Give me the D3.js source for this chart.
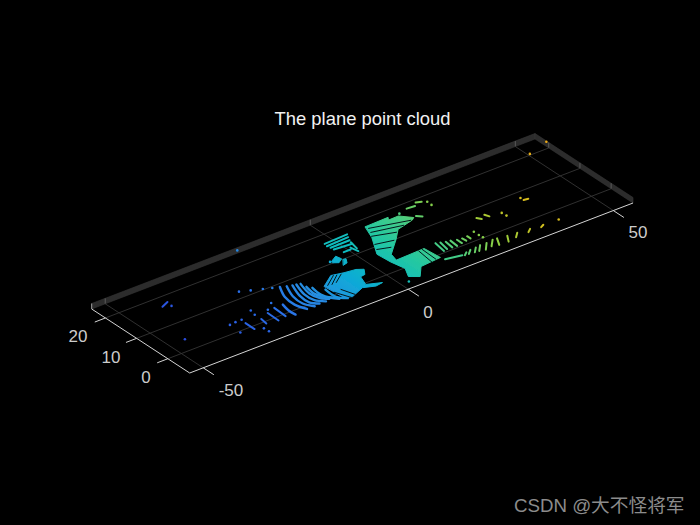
<!DOCTYPE html>
<html><head><meta charset="utf-8">
<script src="https://cdn.jsdelivr.net/npm/d3@7/dist/d3.min.js"></script>
<style>html,body{margin:0;padding:0;background:#000;overflow:hidden}svg{display:block}</style>
</head><body><svg id="c" width="700" height="525"></svg>
<script>
const titleText = "The plane point cloud";
const watermark = "CSDN @大不怪将军";
const xLim = [-53.3, 54.8];
const yLim = [-7, 24.4];
const zLim = [0, 1];
const xTicks = [-50, 0, 50];
const yTicks = [0, 10, 20];
const colorDomain = [-50, -25, -15, -7, 0, 8, 15, 25, 35, 50];
const colorRange = ["#2b46dc", "#2a70e8", "#2590e0", "#10a8d8", "#10bcc0", "#25c8a0", "#45cc85", "#90d040", "#d0c020", "#e8b018"];

// isolated returns (x, y, z)
const dotX = [-40.3,-46.1,-26.6,-24.5,-22.3,-20.6,-35.8,-34.3,-32.8,-36,-29.2,-29.6,-31.4,-31.3,-24.3,-26.4,-5.6,1.9,23.5,23.4,16.4,23.6,23.6,23.7,39.5,32.3,32.4,38.7,50.5,-17.8,54.6];
const dotY = [15.9,4,12.3,11.3,10.3,9.5,3.1,3.3,3.3,-0.5,5.1,3.3,-2,-3.5,5,3.3,10.7,-4.7,17.8,16.3,17.4,3,1.4,0.2,-3.3,5.5,4.1,7.9,20.4,24.4,20.5];
const dotZ = [0,0,0,0,0,0,0,0,0,0,0,0,0,0,0,0,0,0,0,0,0,0,0,0,0,0,0,0,0,0.5,1];

// scan-line returns, each [x,y,x,y,...]
const scanArcs = [
  [-19.2,8.9,-20.8,5.2,-21.1,1.7,-20.2,-1.1],
  [-18,8.3,-19.4,4.5,-19.6,1.1,-18.4,-1.2],
  [-16.9,7.9,-18.2,3.9,-18.3,0.7,-17,-0.9],
  [-16.1,7.7,-17.2,3.7,-17,0.7,-15.5,-1],
  [-15.3,7.4,-16.2,3.4,-15.7,0.9,-14.4,-0.6],
  [-15.1,5.8,-15.5,2.8,-14.7,0.6,-13.4,-0.9],
  [-14.4,4.8,-14.7,1.7,-13.9,-0.5,-12.8,-1.8],
  [-12.8,2.7,-12.9,-0.8,-11.4,-2.6],
  [-22.9,3.1,-23.4,0.6,-23.3,-1.5]
];
const scanShort = [
  [-41.9,16.7,-40,17.6],[-33,1.8,-33,-1.1],[-29.6,1.2,-29.9,-0.8],[-27.2,2.3,-27.3,-1.3],[-25,3.1,-25.2,-0.8],
  [-2.2,16.9,3.5,17.2],[-2.4,15.9,3,16.2],[-2.2,15,2.5,15.1],[-2.1,14.1,2.1,13.7],[-1.2,12.1,0.5,12.1],[0.9,12.7,1.3,10.7],[2.2,14.3,1.7,11.7],
  [15,4,14.5,0.6],[15.9,3.6,15.4,0.8],[16.9,3.2,16.6,0.7],[17.9,3,17.7,0.6],[19.1,2.5,19.1,0.9],[20.2,2.3,20.3,1.1],[21.5,2.4,21.5,1.3],
  [12.7,-2.1,16.3,-2.9],[16.7,-3.2,17.6,-2.5],[17.6,-3.3,18.8,-2.2],[18.9,-3.5,20.2,-2.1],[19.9,-3.6,21.4,-1.9],[21.2,-4,22.9,-2],[22.9,-3.6,24.6,-1.7],[25.6,-1.8,24.4,-4.1],[27.8,-2.2,26.6,-4.2],[28.8,-3.7,30,-2.5],[31.9,-3.6,32.9,-2.8],[35,-3.6,35.9,-3.1],
  [27.2,6.9,27.8,6],[29.2,7,29.6,5.9],[18.7,18.1,20.6,17.9],[21.5,18.9,22.6,18.4],[18.4,14.7,19.3,13.8],[38.7,6.9,39.7,6.7]
];
// dense patches, each [x,y,x,y,...] outline
const patches = [
  [-12.2,3.9,-8.7,6.4,-6,5.7,-3.4,5.3,-2.1,4.4,-3.2,2.7,-4.4,2.5,-5.4,-0.5,-2.4,-1.9,-4.2,-2.2,-6.7,-1.1,-10.3,-2.7,-11.8,-2.1,-12.1,1.4],
  [-5.2,10.7,-3.4,11.8,-3.1,10.3,-4.4,9.4,-5.4,10.1],
  [-3,9.9,-2.4,9.8,-3.2,8.4,-4.3,8.1],
  [8.1,17.4,13.8,17.6,13.2,16.7,15.7,16.8,17.7,14.5,16.9,13.9,12.5,12.7,9.9,9.9,5.6,5.8,5,3.4,12,3.7,12.4,-1,7.3,-1.5,4.8,-4.5,3,-3.1,4.4,-0.2,3.7,3.5,3.4,7.5,6.5,13.2]
];
// dark gaps between scan lines inside the patches
const patchGaps = [
  [-11.5,3.7,-8.3,6.1],[-10.6,3.5,-7.7,5.8],[-9.5,3.6,-6.8,5.6],[-12.1,0.8,-10.7,-2.8],[-10.4,0.9,-9.4,-2.3],
  [8.2,16.5,16.6,14],[7.6,15,14.3,13.3],[6.8,13.7,11.6,12],[5.4,10.8,9.3,9.8],[4.5,9,7.2,8],[10.6,3.6,10,-1.5],[11.5,3.7,11.3,-1]
];

const uX = d3.scaleLinear().domain(xLim).range([189.7, 633]);
const vX = d3.scaleLinear().domain(xLim).range([373, 203]);
const uY = d3.scaleLinear().domain(yLim).range([0, -98]);
const vY = d3.scaleLinear().domain(yLim).range([0, -64]);
const vZ = d3.scaleLinear().domain(zLim).range([0, -5.5]);
const P = (x, y, z = 0) => [uX(x) + uY(y), vX(x) + vY(y) + vZ(z)];
const color = d3.scaleLinear().domain(colorDomain).range(colorRange);

const svg = d3.select("#c");
svg.append("rect").attr("width", 700).attr("height", 525).attr("fill", "#000");

// gradient running along the x direction of the floor
const O = P(0, 0), a = P(1, 0), b = P(0, 1);
const ax = a[0]-O[0], ay = a[1]-O[1], dx = b[0]-O[0], dy = b[1]-O[1];
const k = (ax*dx + ay*dy) / (dx*dx + dy*dy);
const nx = ax - k*dx, ny = ay - k*dy;
const span = x => [O[0] + x*nx, O[1] + x*ny];
const g0 = span(colorDomain[0]), g1 = span(colorDomain[colorDomain.length-1]);
const defs = svg.append("defs");
const grad = defs.append("linearGradient").attr("id", "byX")
  .attr("gradientUnits", "userSpaceOnUse")
  .attr("x1", g0[0]).attr("y1", g0[1]).attr("x2", g1[0]).attr("y2", g1[1]);
grad.selectAll("stop").data(colorDomain).join("stop")
  .attr("offset", d => (d - colorDomain[0]) / (colorDomain[colorDomain.length-1] - colorDomain[0]))
  .attr("stop-color", d => color(d));
defs.append("filter").attr("id", "soft").attr("x", "-5%").attr("y", "-5%").attr("width", "110%").attr("height", "110%")
  .append("feGaussianBlur").attr("stdDeviation", 0.35);

const line = d3.line();
const seg = (p, q, c, w, parent) => parent.append("line")
  .attr("x1", p[0]).attr("y1", p[1]).attr("x2", q[0]).attr("y2", q[1])
  .attr("stroke", c).attr("stroke-width", w);

// walls
const wall = svg.append("g");
const wallPoly = (pts) => wall.append("path").attr("d", line(pts) + "Z").attr("fill", "#2c2c2c").attr("stroke", "#363636").attr("stroke-width", 0.6);
wallPoly([P(xLim[0],yLim[1],0),P(xLim[1],yLim[1],0),P(xLim[1],yLim[1],1),P(xLim[0],yLim[1],1)]);
wallPoly([P(xLim[1],yLim[1],0),P(xLim[1],yLim[0],0),P(xLim[1],yLim[0],1),P(xLim[1],yLim[1],1)]);
xTicks.forEach(t => seg(P(t,yLim[1],0), P(t,yLim[1],1), "#5a5a5a", 1, wall));
yTicks.forEach(t => seg(P(xLim[1],t,0), P(xLim[1],t,1), "#5a5a5a", 1, wall));

// floor grid
const grid = svg.append("g");
xTicks.forEach(t => seg(P(t,yLim[0]), P(t,yLim[1]), "#363636", 0.9, grid));
yTicks.forEach(t => seg(P(xLim[0],t), P(xLim[1],t), "#363636", 0.9, grid));

// points
const cloud = svg.append("g").attr("fill", "none").attr("stroke-linejoin", "round").attr("stroke-linecap", "round").attr("filter", "url(#soft)");
const toPts = a => d3.range(0, a.length, 2).map(i => P(a[i], a[i+1]));
cloud.selectAll("path.patch").data(patches).join("path").attr("class","patch")
  .attr("d", d => line(toPts(d)) + "Z").attr("fill", "url(#byX)").attr("stroke", "url(#byX)").attr("stroke-width", 1);
cloud.selectAll("path.gap").data(patchGaps).join("path").attr("class","gap")
  .attr("d", d => line(toPts(d))).attr("stroke", "#04161a").attr("stroke-width", 1);
cloud.selectAll("path.arc").data(scanArcs).join("path").attr("class","arc")
  .attr("d", d => d3.line().curve(d3.curveCatmullRom)(toPts(d))).attr("stroke", d => color(d[2])).attr("stroke-width", 2.4);
cloud.selectAll("path.short").data(scanShort).join("path").attr("class","short")
  .attr("d", d => line(toPts(d))).attr("stroke", d => color((d[0]+d[2])/2)).attr("stroke-width", 2);
cloud.append("g").selectAll("circle").data(dotX).join("circle")
  .attr("cx", (d,i) => P(d, dotY[i], dotZ[i])[0]).attr("cy", (d,i) => P(d, dotY[i], dotZ[i])[1])
  .attr("r", 1.3).attr("fill", d => color(d)).attr("stroke", "none");

// axes
const axes = svg.append("g");
seg(P(xLim[0],yLim[0]), P(xLim[1],yLim[0]), "#d4d4d4", 1, axes);
seg(P(xLim[0],yLim[0]), P(xLim[0],yLim[1]), "#d4d4d4", 1, axes);
seg(P(xLim[0],yLim[1],0), P(xLim[0],yLim[1],1), "#a0a0a0", 1, axes);
xTicks.forEach(t => seg(P(t,yLim[0]), P(t,yLim[0]-3.4), "#d4d4d4", 1, axes));
yTicks.forEach(t => seg(P(xLim[0],t), P(xLim[0]-2.6,t), "#d4d4d4", 1, axes));

const label = (txt, x, y, size, fill, anchor="middle", family="'Liberation Sans',Arial,sans-serif") =>
  svg.append("text").attr("x", x).attr("y", y).attr("text-anchor", anchor).attr("font-size", size)
   .attr("font-family", family).attr("fill", fill).text(txt);
const xOff = [[231,396],[428,318],[638,238]];
xTicks.forEach((t,i) => label(String(t), xOff[i][0], xOff[i][1], 17, "#cccccc"));
const yOff = [[146,383],[111,363],[78,342]];
yTicks.forEach((t,i) => label(String(t), yOff[i][0], yOff[i][1], 17, "#cccccc"));
label(titleText, 362.5, 125, 18.4, "#f2f2f2");
label(watermark, 514, 512, 18.7, "#8c8c8c", "start", "'Liberation Sans','Noto Sans CJK SC',sans-serif");
</script></body></html>
